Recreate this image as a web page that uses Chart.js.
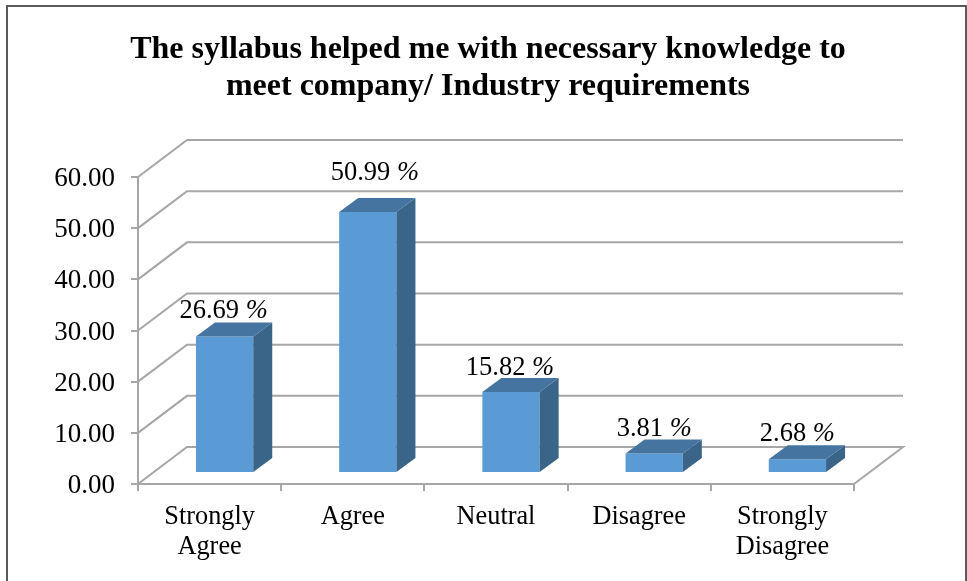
<!DOCTYPE html>
<html>
<head>
<meta charset="utf-8">
<style>html,body{margin:0;padding:0;background:#fff}#w{width:967px;height:581px;position:relative}</style>
<script src="https://cdn.jsdelivr.net/npm/chart.js@4"></script>
</head>
<body>
<div id="w"><canvas id="c" width="967" height="581"></canvas></div>
<script>
const categories = [['Strongly','Agree'],'Agree','Neutral','Disagree',['Strongly','Disagree']];
const values = [26.69, 50.99, 15.82, 3.81, 2.68];
const titleLines = ['The syllabus helped me with necessary knowledge to','meet company/ Industry requirements'];
const SERIF = '"Liberation Serif","Times New Roman",serif';
const GRID = '#a6a6a6';
// 3D look: wall depth, bar placement inside the floor, bar depth
const WALL = {dx:49, dy:-37}, INSET = {dx:15, dy:-11}, BAR = {dx:19, dy:-14};
const labelShift = [-1, 7, -1, -3, -3].map((v,i)=>v+[0,0,0,3,3][i]), labelRise = [25, 39, 24, 24, 25];

const threeD = {
  id:'threeD',
  afterLayout(chart){
    chart.titleBlock.left = 9;
    chart.titleBlock.right = 967;
  },
  beforeDraw(chart){
    const {ctx} = chart;
    ctx.save();
    ctx.strokeStyle = '#5a5a5a'; ctx.lineWidth = 2;
    ctx.strokeRect(7, 6, 959, 600);
    ctx.restore();
  },
  beforeDatasetsDraw(chart){
    const {ctx, scales:{x,y}} = chart;
    ctx.save();
    ctx.strokeStyle = GRID; ctx.lineWidth = 2; ctx.lineJoin = 'miter';
    y.ticks.forEach(t=>{
      const py = y.getPixelForValue(t.value);
      ctx.beginPath();
      ctx.moveTo(x.left, py);
      ctx.lineTo(x.left+WALL.dx, py+WALL.dy);
      ctx.lineTo(x.right+WALL.dx, py+WALL.dy);
      if (t.value === 0) ctx.lineTo(x.right, py);
      ctx.stroke();
    });
    ctx.restore();
  },
  beforeDatasetDraw(chart){
    chart.ctx.save();
    chart.ctx.translate(INSET.dx, INSET.dy);
  },
  afterDatasetDraw(chart, args){
    const {ctx} = chart;
    args.meta.data.forEach(b=>{
      const p = b.getProps(['x','y','base','width'], true);
      const x0 = p.x-p.width/2, x1 = p.x+p.width/2, t = p.y, base = p.base;
      ctx.fillStyle = '#3a6488';
      ctx.beginPath();
      ctx.moveTo(x1,base); ctx.lineTo(x1+BAR.dx,base+BAR.dy); ctx.lineTo(x1+BAR.dx,t+BAR.dy); ctx.lineTo(x1,t);
      ctx.closePath(); ctx.fill();
      ctx.fillStyle = '#44749f';
      ctx.beginPath();
      ctx.moveTo(x0,t); ctx.lineTo(x0+BAR.dx,t+BAR.dy); ctx.lineTo(x1+BAR.dx,t+BAR.dy); ctx.lineTo(x1,t);
      ctx.closePath(); ctx.fill();
    });
    ctx.restore();
  },
  afterDatasetsDraw(chart){
    const {ctx} = chart;
    const meta = chart.getDatasetMeta(0);
    const FS = '26.5px ';
    ctx.save();
    ctx.fillStyle = '#000'; ctx.textBaseline = 'middle'; ctx.textAlign = 'left';
    meta.data.forEach((b,i)=>{
      const p = b.getProps(['x','y'], true);
      const num = values[i].toFixed(2)+' ';
      ctx.font = FS+SERIF; const w1 = ctx.measureText(num).width;
      ctx.font = 'italic '+FS+SERIF; const w2 = ctx.measureText('%').width;
      const cx = p.x+INSET.dx+labelShift[i], cy = p.y+INSET.dy-labelRise[i];
      const sx = cx-(w1+w2)/2;
      ctx.font = FS+SERIF; ctx.fillText(num, sx, cy);
      ctx.font = 'italic '+FS+SERIF; ctx.fillText('%', sx+w1, cy);
    });
    ctx.restore();
  }
};

new Chart(document.getElementById('c'), {
  type:'bar',
  data:{labels:categories, datasets:[{data:values, backgroundColor:'#5b9bd5', borderWidth:0, barPercentage:0.4, categoryPercentage:1, clip:false}]},
  plugins:[threeD],
  options:{
    responsive:false, animation:false,
    layout:{autoPadding:false, padding:{left:0,right:113,top:0,bottom:0}},
    plugins:{
      legend:{display:false}, tooltip:{enabled:false},
      title:{display:true, text:titleLines, color:'#000', align:'center',
        font:{family:SERIF, size:32, weight:'bold', lineHeight:37/32},
        padding:{top:31,bottom:72}, fullSize:true}
    },
    scales:{
      x:{
        afterFit(s){s.height=97;},
        border:{color:GRID,width:2},
        grid:{drawOnChartArea:false, drawTicks:true, tickLength:7, color:GRID, lineWidth:2},
        ticks:{color:'#000', font:{family:SERIF,size:26.3,lineHeight:30/26.3}, padding:11, maxRotation:0, autoSkip:false}
      },
      y:{
        min:0,max:60,
        afterFit(s){s.width=138;},
        border:{color:GRID,width:2},
        grid:{drawOnChartArea:false, drawTicks:true, tickLength:7, color:GRID, lineWidth:2},
        ticks:{stepSize:10, color:'#000', font:{family:SERIF,size:27}, padding:16, labelOffset:2, callback:v=>Number(v).toFixed(2)}
      }
    }
  }
});
</script>
</body>
</html>
